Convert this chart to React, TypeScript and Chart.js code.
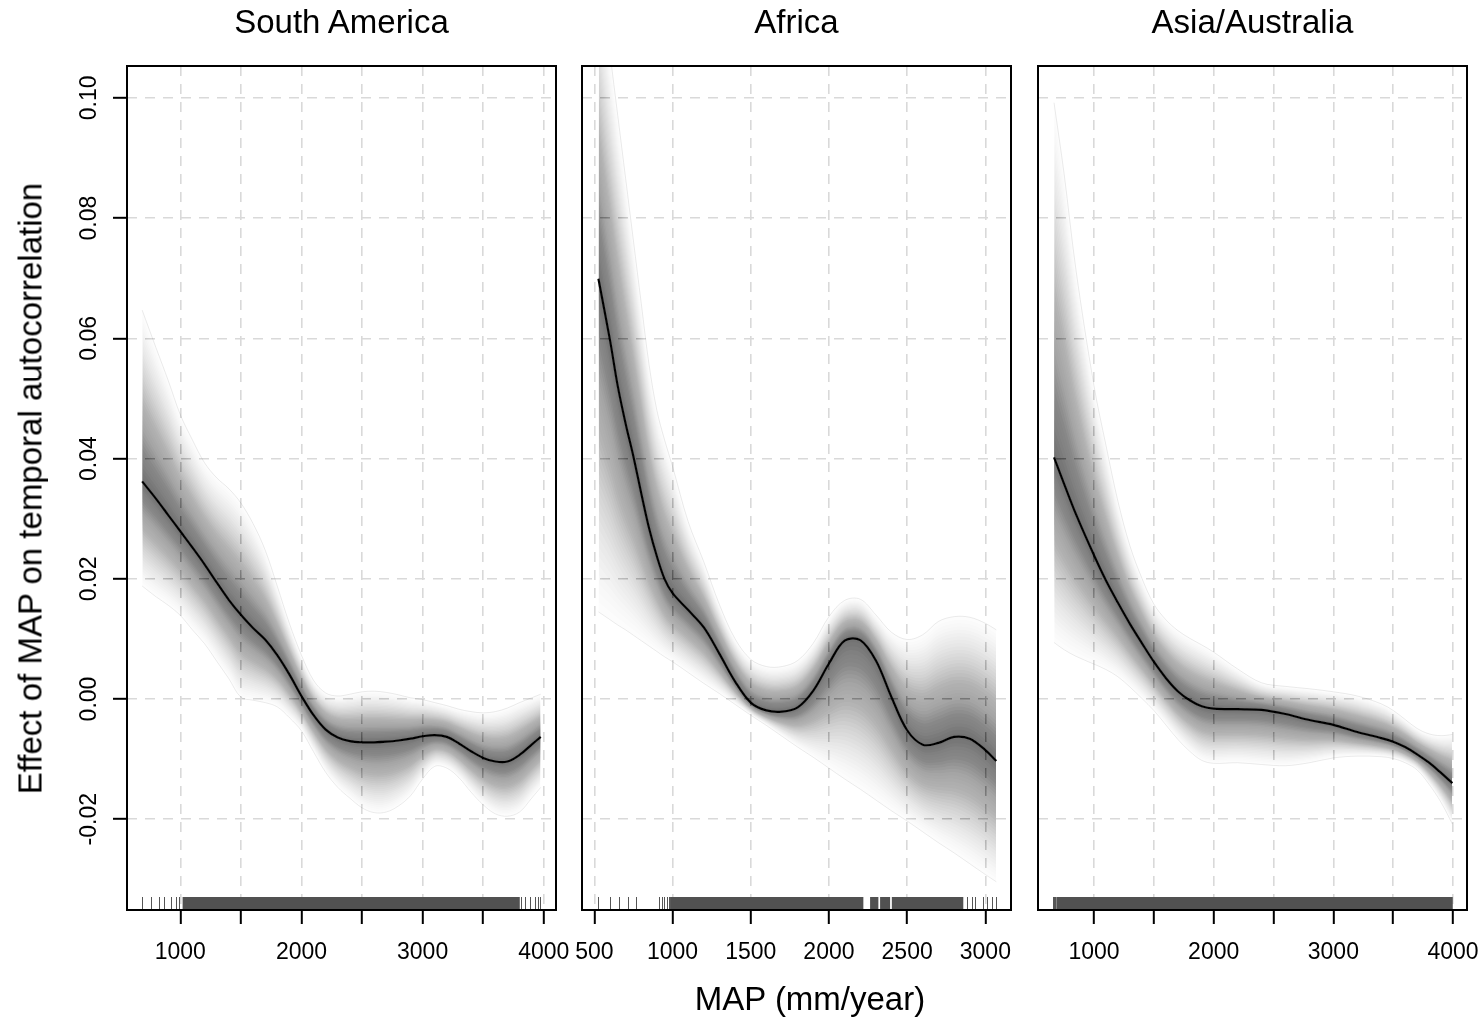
import React, { useEffect, useRef } from 'react';
import { Chart, registerables } from 'chart.js';

Chart.register(...registerables);

const FONT = '"Liberation Sans", Arial, Helvetica, sans-serif';

// ---------- text ----------
const panelTitles = ['South America', 'Africa', 'Asia/Australia'];
const xAxisTitle = 'MAP (mm/year)';
const yAxisTitle = 'Effect of MAP on temporal autocorrelation';

// ---------- y axis ----------
const yTickValues = [-0.02, 0.0, 0.02, 0.04, 0.06, 0.08, 0.1];
const yTickLabels = ['-0.02', '0.00', '0.02', '0.04', '0.06', '0.08', '0.10'];

// ---------- South America ----------
const saMap = [685, 800, 900, 1000, 1100, 1200, 1300, 1400, 1500, 1600, 1700, 1800, 1900, 2000, 2100, 2200, 2300, 2400, 2500, 2600, 2700, 2800, 2900, 3000, 3100, 3200, 3300, 3400, 3500, 3600, 3700, 3800, 3900, 3975];
const saFit = [0.0362, 0.0333, 0.0306, 0.0279, 0.0252, 0.0224, 0.0194, 0.0165, 0.014, 0.0118, 0.0099, 0.0073, 0.0041, 0.0005, -0.0027, -0.0051, -0.0064, -0.007, -0.0072, -0.0072, -0.0071, -0.0069, -0.0066, -0.0062, -0.006, -0.0063, -0.0074, -0.0087, -0.0098, -0.0104, -0.0104, -0.0093, -0.0076, -0.0063];
const saUpper = [0.0647, 0.0584, 0.053, 0.0473, 0.0431, 0.0393, 0.0368, 0.035, 0.0326, 0.0292, 0.0248, 0.0188, 0.0126, 0.0073, 0.0031, 0.001, 0.0005, 0.0008, 0.0012, 0.0013, 0.0011, 0.0007, 0.0002, -0.0001, -0.0006, -0.0011, -0.0017, -0.0021, -0.0023, -0.0021, -0.0015, -0.0006, 0.0002, 0.0008];
const saLower = [0.0188, 0.017, 0.0156, 0.0139, 0.0115, 0.0092, 0.0063, 0.0034, 0.0003, -0.0002, -0.0006, -0.0013, -0.0031, -0.0053, -0.0088, -0.0122, -0.0147, -0.0165, -0.0181, -0.0189, -0.0188, -0.0178, -0.0161, -0.0133, -0.0112, -0.0115, -0.0131, -0.0155, -0.0176, -0.0191, -0.0195, -0.0188, -0.0165, -0.0147];
const saRugTicks = [683, 758, 826, 868, 923, 964, 992, 3810, 3843, 3884, 3926, 3950, 3967];
const saRugSpans = [[1019, 3802]];
const saXTicks = [1000, 1500, 2000, 2500, 3000, 3500, 4000];
const saXTickLabels = ['1000', '', '2000', '', '3000', '', '4000'];

// ---------- Africa ----------
const afMap = [526, 600, 650, 700, 750, 800, 850, 900, 950, 1000, 1100, 1200, 1300, 1400, 1500, 1600, 1700, 1800, 1900, 2000, 2100, 2200, 2300, 2400, 2500, 2600, 2700, 2800, 2900, 3000, 3070];
const afFit = [0.0699, 0.0597, 0.052, 0.0458, 0.0403, 0.0342, 0.0284, 0.0237, 0.0199, 0.0176, 0.0148, 0.0119, 0.0075, 0.0029, -0.0006, -0.0019, -0.0021, -0.0014, 0.0014, 0.0059, 0.0097, 0.0098, 0.0064, 0.0003, -0.0052, -0.0076, -0.0073, -0.0063, -0.0066, -0.0085, -0.0103];
const afUpper = [0.123, 0.1074, 0.097, 0.0866, 0.0762, 0.0658, 0.0556, 0.048, 0.043, 0.0387, 0.0295, 0.0228, 0.0157, 0.01, 0.0066, 0.0054, 0.0054, 0.0064, 0.0093, 0.0137, 0.0164, 0.0166, 0.014, 0.0111, 0.0099, 0.0107, 0.0129, 0.0137, 0.0136, 0.0126, 0.0115];
const afLower = [0.0145, 0.0132, 0.0123, 0.0115, 0.0106, 0.0097, 0.0088, 0.0079, 0.007, 0.0062, 0.0044, 0.0026, 0.0009, -0.0009, -0.0027, -0.0044, -0.0062, -0.008, -0.0097, -0.0115, -0.0133, -0.015, -0.0168, -0.0186, -0.0203, -0.0221, -0.0239, -0.0256, -0.0274, -0.0292, -0.0304];
const afRugTicks = [526, 600, 660, 717, 765, 911, 931, 948, 963, 978, 2881, 2913, 2934, 2987, 3013, 3041, 3068];
const afRugSpans = [[984, 2220], [2263, 2316], [2327, 2391], [2402, 2859]];
const afXTicks = [500, 1000, 1500, 2000, 2500, 3000];
const afXTickLabels = ['500', '1000', '1500', '2000', '2500', '3000'];

// ---------- Asia/Australia ----------
const asMap = [666, 750, 850, 1000, 1100, 1200, 1300, 1400, 1500, 1600, 1700, 1800, 1900, 2000, 2200, 2400, 2600, 2800, 3000, 3200, 3400, 3500, 3600, 3700, 3800, 3900, 3995];
const asFit = [0.0402, 0.0358, 0.0307, 0.0239, 0.0197, 0.016, 0.0125, 0.0093, 0.0062, 0.0035, 0.0013, -0.0002, -0.0012, -0.0016, -0.0017, -0.0018, -0.0025, -0.0035, -0.0043, -0.0055, -0.0065, -0.0071, -0.008, -0.0092, -0.0106, -0.0123, -0.014];
const asUpper = [0.0992, 0.0874, 0.0713, 0.0521, 0.0422, 0.0329, 0.0255, 0.0201, 0.0158, 0.0132, 0.0114, 0.0101, 0.009, 0.0078, 0.005, 0.0027, 0.0021, 0.0017, 0.0012, 0.0005, -0.0008, -0.0019, -0.0034, -0.0049, -0.0058, -0.0061, -0.0059];
const asLower = [0.0094, 0.0082, 0.0071, 0.0058, 0.0049, 0.0037, 0.002, 0.0001, -0.0019, -0.0043, -0.0067, -0.0087, -0.0102, -0.0107, -0.0106, -0.0109, -0.0111, -0.0106, -0.0098, -0.0095, -0.0096, -0.0099, -0.0106, -0.0118, -0.0142, -0.0172, -0.0208];
const asRugTicks = [659, 668, 676];
const asRugSpans = [[685, 3998]];
const asXTicks = [1000, 1500, 2000, 2500, 3000, 3500, 4000];
const asXTickLabels = ['1000', '', '2000', '', '3000', '', '4000'];

// ---------- layout ----------
const W = 1482;
const H = 1020;
const PLOT_TOP = 66;
const PLOT_BOTTOM = 910;
const X_AXIS_H = 60;
const Y_MIN = -0.0351;
const Y_MAX = 0.1053;
const LAYERS = 36;
const GRID = '#d9d9d9';

type Spec = {
  title: string;
  map: number[];
  fit: number[];
  upper: number[];
  lower: number[];
  rugTicks: number[];
  rugSpans: number[][];
  xTicks: number[];
  xTickLabels: string[];
  xMin: number;
  xMax: number;
  left: number;
  right: number;
  showY: boolean;
};

const PANELS: Spec[] = [
  { title: panelTitles[0], map: saMap, fit: saFit, upper: saUpper, lower: saLower, rugTicks: saRugTicks, rugSpans: saRugSpans, xTicks: saXTicks, xTickLabels: saXTickLabels, xMin: 560, xMax: 4101, left: 127, right: 556, showY: true },
  { title: panelTitles[1], map: afMap, fit: afFit, upper: afUpper, lower: afLower, rugTicks: afRugTicks, rugSpans: afRugSpans, xTicks: afXTicks, xTickLabels: afXTickLabels, xMin: 421, xMax: 3164, left: 582, right: 1011, showY: false },
  { title: panelTitles[2], map: asMap, fit: asFit, upper: asUpper, lower: asLower, rugTicks: asRugTicks, rugSpans: asRugSpans, xTicks: asXTicks, xTickLabels: asXTickLabels, xMin: 532, xMax: 4117, left: 1038, right: 1467, showY: false },
];

function Panel({ spec }: { spec: Spec }) {
  const ref = useRef<HTMLCanvasElement>(null);
  useEffect(() => {
    const canvas = ref.current;
    if (!canvas) return;
    const datasets: any[] = [];
    for (let k = LAYERS; k >= 1; k--) {
      const f = k / LAYERS;
      const outer = k === LAYERS;
      const alpha = 0.011 + 0.029 * (1 - f);
      const up = spec.map.map((x, i) => ({ x, y: spec.fit[i] + f * (spec.upper[i] - spec.fit[i]) }));
      const lo = spec.map.map((x, i) => ({ x, y: spec.fit[i] - f * (spec.fit[i] - spec.lower[i]) }));
      datasets.push({
        data: up,
        fill: '+1',
        backgroundColor: `rgba(0,0,0,${alpha.toFixed(4)})`,
        borderColor: outer ? 'rgba(0,0,0,0.14)' : 'rgba(0,0,0,0)',
        borderWidth: outer ? 0.6 : 0,
        pointRadius: 0,
        tension: 0.35,
      });
      datasets.push({
        data: lo,
        fill: false,
        borderColor: outer ? 'rgba(0,0,0,0.14)' : 'rgba(0,0,0,0)',
        borderWidth: outer ? 0.6 : 0,
        pointRadius: 0,
        tension: 0.35,
      });
    }
    datasets.push({
      data: spec.map.map((x, i) => ({ x, y: spec.fit[i] })),
      fill: false,
      borderColor: '#000',
      borderWidth: 2.2,
      pointRadius: 0,
      tension: 0.35,
    });

    const decor = {
      id: 'decor',
      afterDatasetsDraw(chart: any) {
        const { ctx, chartArea: a, scales } = chart;
        const xs = scales.x;
        const ys = scales.y;
        ctx.save();
        const rugTop = a.bottom - 13;
        ctx.fillStyle = '#515151';
        spec.rugSpans.forEach(([s, e]) => {
          const x0 = xs.getPixelForValue(s);
          const x1 = xs.getPixelForValue(e);
          ctx.fillRect(x0, rugTop, x1 - x0, a.bottom - rugTop);
        });
        ctx.strokeStyle = '#555';
        ctx.lineWidth = 1;
        spec.rugTicks.forEach((v) => {
          const x = Math.round(xs.getPixelForValue(v)) + 0.5;
          ctx.beginPath();
          ctx.moveTo(x, rugTop);
          ctx.lineTo(x, a.bottom);
          ctx.stroke();
        });
        ctx.strokeStyle = '#000';
        ctx.lineWidth = 2;
        ctx.strokeRect(a.left, a.top, a.right - a.left, a.bottom - a.top);
        if (spec.showY) {
          ctx.fillStyle = '#000';
          ctx.font = `23px ${FONT}`;
          ctx.textAlign = 'center';
          ctx.textBaseline = 'alphabetic';
          yTickValues.forEach((v, i) => {
            const y = ys.getPixelForValue(v);
            ctx.save();
            ctx.translate(a.left - 31, y);
            ctx.rotate(-Math.PI / 2);
            ctx.fillText(yTickLabels[i], 0, 0);
            ctx.restore();
          });
        }
        ctx.restore();
      },
    };

    const yW = spec.showY ? 14 : 0;
    const chart = new Chart(canvas, {
      type: 'line',
      data: { datasets },
      plugins: [decor],
      options: {
        animation: false,
        responsive: false,
        devicePixelRatio: 1,
        events: [],
        layout: {
          autoPadding: false,
          padding: { left: spec.left - yW, right: W - spec.right, top: PLOT_TOP, bottom: H - PLOT_BOTTOM - X_AXIS_H },
        },
        plugins: { legend: { display: false }, tooltip: { enabled: false }, title: { display: false } },
        scales: {
          x: {
            type: 'linear',
            min: spec.xMin,
            max: spec.xMax,
            afterBuildTicks: (s: any) => {
              s.ticks = spec.xTicks.map((v) => ({ value: v }));
            },
            afterFit: (s: any) => {
              s.height = X_AXIS_H;
              s.paddingLeft = 0;
              s.paddingRight = 0;
            },
            ticks: {
              autoSkip: false,
              maxRotation: 0,
              minRotation: 0,
              padding: 15,
              color: '#000',
              font: { family: FONT, size: 23 },
              callback: (v: any) => {
                const idx = spec.xTicks.indexOf(Number(v));
                return idx >= 0 ? spec.xTickLabels[idx] : '';
              },
            },
            grid: { color: GRID, lineWidth: 1.6, drawTicks: true, tickLength: 14, tickColor: '#000', tickWidth: 2 },
            border: { display: false, dash: [10, 8] },
          },
          y: {
            type: 'linear',
            min: Y_MIN,
            max: Y_MAX,
            afterBuildTicks: (s: any) => {
              s.ticks = yTickValues.map((v) => ({ value: v }));
            },
            afterFit: (s: any) => {
              s.width = yW;
              s.paddingTop = 0;
              s.paddingBottom = 0;
            },
            ticks: { display: false },
            grid: { color: GRID, lineWidth: 1.6, drawTicks: spec.showY, tickLength: 14, tickColor: '#000', tickWidth: 2 },
            border: { display: false, dash: [10, 8] },
          },
        },
      } as any,
    });
    return () => chart.destroy();
  }, [spec]);
  return (
    <canvas
      ref={ref}
      width={W}
      height={H}
      style={{ position: 'absolute', left: 0, top: 0, width: W, height: H }}
    />
  );
}

const textBase: React.CSSProperties = {
  position: 'absolute',
  fontFamily: FONT,
  fontSize: 33,
  lineHeight: '33px',
  height: 33,
  color: '#000',
  textAlign: 'center',
  whiteSpace: 'nowrap',
};

export default function App() {
  return (
    <div style={{ position: 'absolute', left: 0, top: 0, width: W, height: H, background: '#fff', overflow: 'hidden' }}>
      {PANELS.map((p, i) => (
        <Panel key={i} spec={p} />
      ))}
      {PANELS.map((p, i) => (
        <div key={'t' + i} style={{ ...textBase, left: (p.left + p.right) / 2 - 250, width: 500, top: 5 }}>
          {p.title}
        </div>
      ))}
      <div style={{ ...textBase, left: 810 - 250, width: 500, top: 982 }}>{xAxisTitle}</div>
      <div
        style={{
          ...textBase,
          left: 30 - 400,
          top: 488 - 16.5,
          width: 800,
          transform: 'rotate(-90deg)',
          transformOrigin: '50% 50%',
        }}
      >
        {yAxisTitle}
      </div>
    </div>
  );
}
